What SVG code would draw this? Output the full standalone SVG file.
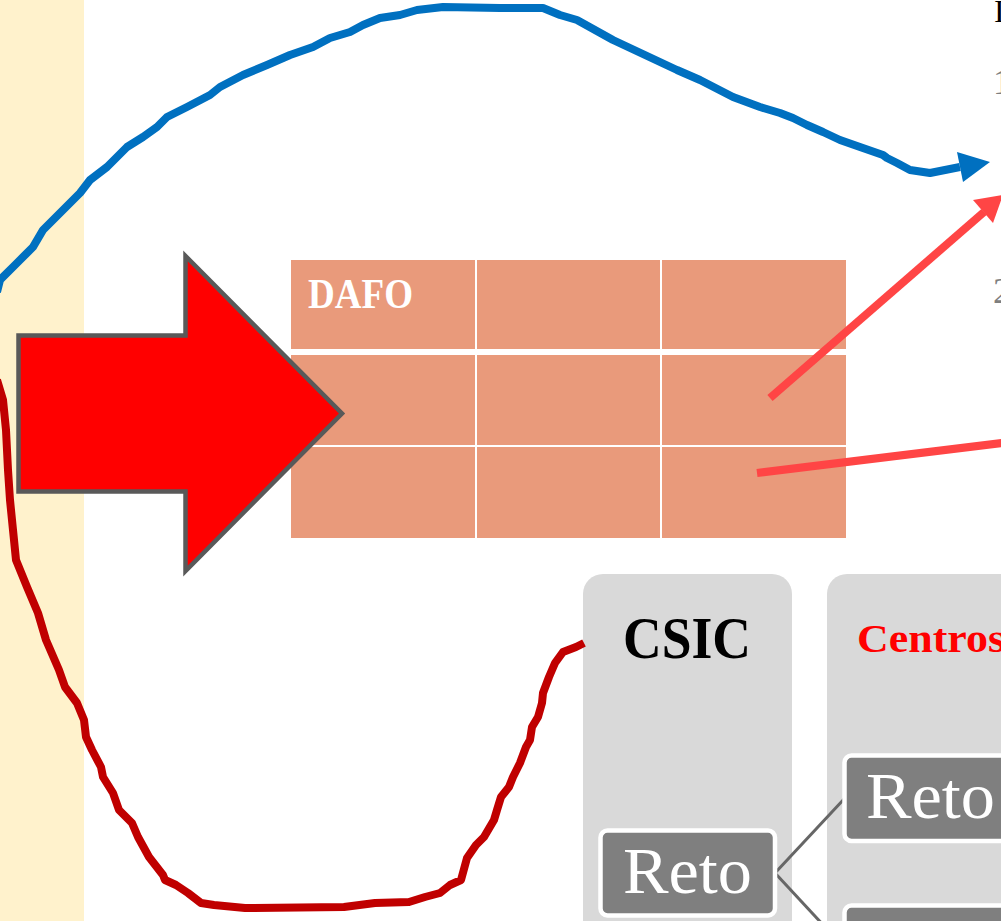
<svg xmlns="http://www.w3.org/2000/svg" width="1001" height="921" viewBox="0 0 1001 921">
  <style>
    .serif { font-family: "Liberation Serif", "DejaVu Serif", serif; }
    .cell { fill: #E99A7B; }
    .panel { fill: #D9D9D9; }
    .reto { fill: #7F7F7F; stroke: #FFFFFF; stroke-width: 4.5; }
    .retotxt { font-family: "Liberation Serif", "DejaVu Serif", serif; font-size: 66px; fill: #FFFFFF; }
    .conn { fill: none; stroke: #666666; stroke-width: 3; }
    .redline { fill: none; stroke: #FF4545; stroke-width: 8; }
  </style>
  <rect x="0" y="0" width="1001" height="921" fill="#FFFFFF"/>
  <rect id="strip" x="0" y="0" width="84" height="921" fill="#FFF2CC"/>

  <g id="dafo">
    <rect class="cell" x="291" y="260" width="184" height="89"/>
    <rect class="cell" x="477" y="260" width="183" height="89"/>
    <rect class="cell" x="662" y="260" width="184" height="89"/>
    <rect class="cell" x="291" y="355" width="184" height="90"/>
    <rect class="cell" x="477" y="355" width="183" height="90"/>
    <rect class="cell" x="662" y="355" width="184" height="90"/>
    <rect class="cell" x="291" y="447" width="184" height="91"/>
    <rect class="cell" x="477" y="447" width="183" height="91"/>
    <rect class="cell" x="662" y="447" width="184" height="91"/>
    <text class="serif" x="308" y="308" font-size="42" font-weight="bold" fill="#FFFFFF" textLength="105" lengthAdjust="spacingAndGlyphs">DAFO</text>
  </g>

  <g id="big-arrow">
    <polygon points="18.5,335.5 185.5,335.5 185.5,256 342,413.5 185.5,571 185.5,491.5 18.5,491.5" fill="#FF0000" stroke="#595959" stroke-width="4.5" stroke-linejoin="miter"/>
  </g>

  <g id="csic-panel">
    <rect class="panel" x="583" y="574" width="209" height="420" rx="20"/>
    <text class="serif" x="623" y="658" font-size="60" font-weight="bold" fill="#000000" textLength="128" lengthAdjust="spacingAndGlyphs">CSIC</text>
  </g>
  <g id="centros-panel">
    <rect class="panel" x="827" y="574" width="260" height="420" rx="20"/>
    <text class="serif" x="857" y="652" font-size="40" font-weight="bold" fill="#FF0000" textLength="148" lengthAdjust="spacingAndGlyphs">Centros</text>
  </g>

  <g id="connectors">
    <line class="conn" x1="775" y1="873" x2="845" y2="798"/>
    <line class="conn" x1="775" y1="873" x2="845" y2="948.5"/>
    <polyline fill="none" stroke="#C00000" stroke-width="8" stroke-linejoin="round" points="-3,380 3,400 6,430 8,470 10,500 13,530 16,560 27,587 38,613 46,640 59,670 65,687 77,703 84,720 86,737 92,750 101,767 103,777 113,793 119,810 132,823 138,837 149,857 163,875 165,880 176,885 188,893 201,903 214,905 245,908 344,907 375,903 409,902 425,897 440,893 450,885 461,880 467,858 476,845 484,837 494,820 497,810 501,797 509,787 513,777 520,763 526,747 530,740 532,727 538,717 542,703 543,693 549,677 555,663 563,652 576,647 584,643"/>
    <polyline fill="none" stroke="#0070C0" stroke-width="8" stroke-linejoin="round" points="-3,292 0,280 13,267 20,260 33,247 43,230 60,213 80,193 90,180 107,167 127,147 143,137 157,127 167,117 187,107 210,95 220,87 243,75 267,65 290,55 313,47 330,38 350,32 363,25 380,18 400,15 417,10 443,7 500,8 543,8 560,15 577,20 613,40 677,70 700,80 733,97 760,107 780,113 793,118 807,125 823,132 840,140 860,147 883,155 887,158 897,163 910,170 930,173 960,167"/>
    <polygon points="990,162 957,152 963,182" fill="#0070C0"/>
    <line class="redline" x1="770" y1="398" x2="984" y2="212"/>
    <polygon points="1003,195 973,200 993,223" fill="#FF4545"/>
    <line class="redline" x1="757" y1="473" x2="1010" y2="442"/>
  </g>

  <g id="reto-1">
    <rect class="reto" x="600.5" y="830.5" width="174.5" height="85" rx="7"/>
    <text class="retotxt" x="623" y="893" textLength="129" lengthAdjust="spacingAndGlyphs">Reto</text>
  </g>
  <g id="reto-2">
    <rect class="reto" x="844.5" y="755.5" width="200" height="85.5" rx="7"/>
    <text class="retotxt" x="866" y="818" textLength="129" lengthAdjust="spacingAndGlyphs">Reto</text>
  </g>
  <g id="reto-3">
    <rect class="reto" x="844.5" y="905.5" width="200" height="86" rx="7"/>
  </g>

  <g id="edge-text">
    <text class="serif" x="994" y="22" font-size="32" fill="#000000">I</text>
    <text class="serif" x="993" y="94" font-size="36" fill="#7F7F7F">1.</text>
    <text class="serif" x="993" y="303" font-size="36" fill="#7F7F7F">2.</text>
  </g>
</svg>
